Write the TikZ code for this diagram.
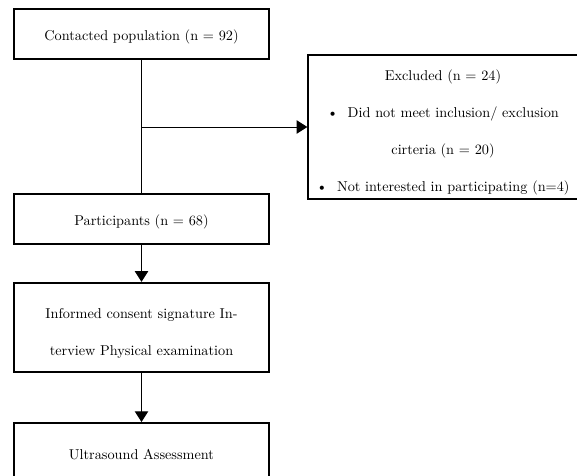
\documentclass[tikz,border=0pt]{standalone}
\usepackage{xcolor}
\usepackage{tikz}
\usetikzlibrary{arrows.meta, positioning}

\begin{document}
\begin{tikzpicture}[x=0.75pt, y=-0.75pt,
    stage/.style={draw, line width=1.5pt, minimum width=191pt, align=center,
      font=\fontsize{10.7}{12}\selectfont, execute at begin node={\rule{0pt}{13pt}}},
    flow/.style={line width=0.75pt, -{Triangle[length=8pt, width=10pt]}}]
  \useasboundingbox (0,0) rectangle (577,475);

  % left column: study flow
  \node[stage, minimum height=37.5pt] (contacted) at (141.5,34) {Contacted population (n = 92)};
  \node[stage, minimum height=38pt] (participants) at (141.5,219) {Participants (n = 68)};
  \node[stage, minimum height=67pt] (interview) at (141.5,327.5)
    {\rule{0pt}{16pt}Informed consent signature In-\\[15.5pt]terview Physical examination};
  \node[stage, minimum height=42pt] (ultrasound) at (141.5,451) {Ultrasound Assessment};

  % right: excluded
  \node[stage, minimum width=202pt, minimum height=108pt] (excluded) at (443,127)
    {\rule{0pt}{16pt}Excluded (n = 24)\\[15.8pt]
     \textbullet\ \ Did not meet inclusion/ exclusion\\[15.8pt]
     cirteria (n = 20)\\[15.8pt]
     \textbullet\ \ Not interested in participating (n=4)};

  \coordinate (split) at (contacted.south |- excluded.west);
  \draw[line width=0.75pt] (contacted) -- (participants);
  \draw[flow] (split) -- (excluded.west);
  \draw[flow] (participants) -- (interview);
  \draw[flow] (interview) -- (ultrasound);
\end{tikzpicture}
\end{document}
